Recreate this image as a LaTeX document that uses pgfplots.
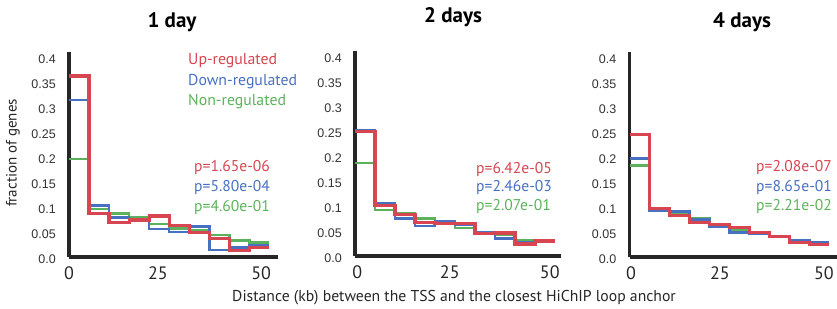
\documentclass[border=0pt]{standalone}
\usepackage{pgfplots}
\pgfplotsset{compat=1.18}
\usepackage{fontspec}
\setmainfont{PT Sans}
\newfontfamily\tickfont{Liberation Sans}
\definecolor{cred}{RGB}{214,69,80}
\definecolor{cblue}{RGB}{72,112,192}
\definecolor{cgreen}{RGB}{92,178,92}
\begin{document}
\begin{tikzpicture}[x=1pt,y=1pt]
\path[use as bounding box] (0,0) rectangle (837,308);
\pgfplotsset{
  panel/.style={
    scale only axis, height=205pt,
    ymin=0, ymax=0.41,
    axis x line*=bottom, axis y line*=left,
    axis line style={-, line width=3.2pt, draw=black!85},
    major tick length=0pt,
    ytick={0,0.05,0.1,0.15,0.2,0.25,0.3,0.35,0.4},
    yticklabels={0.0,0.05,0.1,0.15,0.2,0.25,0.3,0.35,0.4},
    yticklabel style={font=\tickfont\fontsize{12.5}{13}\selectfont, text=black!80, anchor=east, inner sep=0pt, xshift=-13pt, yshift=-2pt},
    xticklabels={0,25,50},
    xticklabel style={font=\fontsize{18}{19}\selectfont, text=black!85, anchor=north, inner sep=0pt, yshift=-9pt},
    clip=false,
  },
  st/.style={const plot, no marks, line width=2.8pt},
}
% Panel 1
\begin{axis}[panel, at={(69pt,51pt)}, anchor=south west, width=209pt, xmin=0, xmax=52.2, xtick={0,22.2,48}]
\addplot[st, cgreen] coordinates {(0,0.196)(5,0.096)(10,0.087)(15,0.079)(20,0.066)(25,0.057)(30,0.053)(35,0.044)(40,0.033)(45,0.029)(50,0.029)};
\addplot[st, cblue] coordinates {(0,0.314)(5,0.103)(10,0.079)(15,0.073)(20,0.056)(25,0.050)(30,0.061)(35,0.014)(40,0.019)(45,0.024)(50,0.024)};
\addplot[st, cred, line width=3.1pt] coordinates {(0,0.362)(5,0.087)(10,0.069)(15,0.074)(20,0.082)(25,0.063)(30,0.049)(35,0.037)(40,0.013)(45,0.019)(50,0.019)};
\end{axis}
% Panel 2
\begin{axis}[panel, at={(355pt,52pt)}, anchor=south west, width=206pt, xmin=0, xmax=51.5, xtick={0.6,23.7,48.7}]
\addplot[st, cgreen] coordinates {(0,0.186)(5,0.092)(10,0.085)(15,0.075)(20,0.066)(25,0.056)(30,0.048)(35,0.043)(40,0.032)(45,0.030)(50,0.030)};
\addplot[st, cblue] coordinates {(0,0.251)(5,0.105)(10,0.075)(15,0.060)(20,0.070)(25,0.062)(30,0.048)(35,0.035)(40,0.027)(45,0.030)(50,0.030)};
\addplot[st, cred, line width=3.1pt] coordinates {(0,0.249)(5,0.101)(10,0.083)(15,0.067)(20,0.065)(25,0.065)(30,0.045)(35,0.046)(40,0.024)(45,0.030)(50,0.030)};
\end{axis}
% Panel 3
\begin{axis}[panel, at={(629.5pt,51pt)}, anchor=south west, width=207.5pt, xmin=0, xmax=51.9, xtick={0.4,22.6,48.6}]
\addplot[st, cgreen] coordinates {(0,0.183)(5,0.093)(10,0.087)(15,0.077)(20,0.064)(25,0.054)(30,0.047)(35,0.041)(40,0.033)(45,0.029)(50,0.029)};
\addplot[st, cblue] coordinates {(0,0.197)(5,0.093)(10,0.091)(15,0.075)(20,0.061)(25,0.049)(30,0.047)(35,0.041)(40,0.033)(45,0.029)(50,0.029)};
\addplot[st, cred, line width=3.1pt] coordinates {(0,0.245)(5,0.097)(10,0.083)(15,0.069)(20,0.065)(25,0.059)(30,0.049)(35,0.041)(40,0.029)(45,0.025)(50,0.025)};
\end{axis}
% titles
\node[font=\bfseries\fontsize{21}{22}\selectfont] at (172,286) {1 day};
\node[font=\bfseries\fontsize{21}{22}\selectfont] at (453,291) {2 days};
\node[font=\bfseries\fontsize{21}{22}\selectfont] at (742,286) {4 days};
% legend
\begin{scope}[every node/.style={anchor=west, inner sep=0pt, font=\fontsize{15.8}{17}\selectfont}]
\node[text=cred] at (188,247) {Up-regulated};
\node[text=cblue] at (188,226) {Down-regulated};
\node[text=cgreen] at (188,206) {Non-regulated};
\end{scope}
\begin{scope}[every node/.style={anchor=west, inner sep=0pt, font=\fontsize{15.6}{17}\selectfont}]
\node[text=cred] at (194,140) {p=1.65e-06};
\node[text=cblue] at (194,120) {p=5.80e-04};
\node[text=cgreen] at (194,100) {p=4.60e-01};
\node[text=cred] at (476,138) {p=6.42e-05};
\node[text=cblue] at (476,120) {p=2.46e-03};
\node[text=cgreen] at (476,101) {p=2.07e-01};
\node[text=cred] at (756,140) {p=2.08e-07};
\node[text=cblue] at (756,120) {p=8.65e-01};
\node[text=cgreen] at (756,101) {p=2.21e-02};
\end{scope}
\node[rotate=90, font=\fontsize{15}{16}\selectfont, text=black!85] at (13,155) {fraction of genes};
\node[font=\fontsize{15.7}{17}\selectfont, text=black!85] at (454,10) {Distance (kb) between the TSS and the closest HiChIP loop anchor};
\end{tikzpicture}
\end{document}
